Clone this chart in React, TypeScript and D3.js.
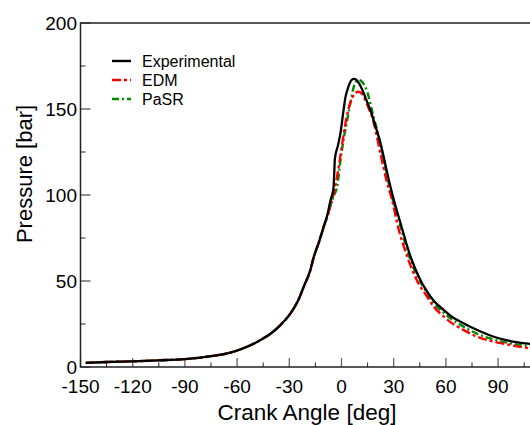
import React, { useRef, useEffect } from "react";
import * as d3 from "d3";

// crank angle [deg] / pressure [bar]
const expAngle = [-147, -135, -120, -105, -90, -75, -64, -58, -52, -46, -41, -35, -29.3, -25, -21.7, -18, -15.9, -13, -10.2, -8, -6.3, -4.6, -4.2, -3.8, -2, -0.6, 1, 2.3, 4, 5.5, 7, 8.5, 10, 12, 14, 16.7, 18.6, 22.4, 27.2, 30.1, 33.9, 39.7, 44.4, 49.2, 53, 58.8, 63, 68.4, 78, 87.5, 97, 108.6, 115];
const expP = [2.4, 2.9, 3.3, 3.9, 4.6, 6.3, 8.3, 10.3, 12.8, 16, 19.2, 24.5, 31.2, 38.5, 46.7, 56, 64.1, 72.5, 81.6, 89, 97, 104, 112, 121, 129, 136, 148, 157, 163, 166.5, 167.5, 167, 165, 161, 156, 149, 143, 130, 108.7, 97, 83.7, 64.1, 52.5, 43.8, 38.5, 33.1, 29.5, 26.3, 21.5, 17.6, 15.1, 13.4, 12.6];

const edmAngle = [-147, -135, -120, -105, -90, -75, -64, -58, -52, -46, -41, -35, -29.3, -25, -21.7, -18, -15.9, -13, -10.2, -8, -6, -4, -2, 0, 2, 4, 6, 8, 10, 12, 15, 18, 22.4, 26, 29.1, 32, 37.8, 43, 49.2, 53, 58.8, 63, 68.4, 78, 87.5, 97, 104.6, 115];
const edmP = [2.4, 2.9, 3.3, 3.9, 4.6, 6.3, 8.3, 10.3, 12.8, 16, 19.2, 24.5, 31.2, 38.5, 46.7, 56, 64.1, 72.5, 81.6, 88, 95, 103, 114, 127, 140, 150, 156, 159.5, 160, 158.5, 152, 144, 124, 108, 97, 83.5, 64.1, 51, 40.9, 35, 29.3, 25.8, 22.5, 17.6, 14.7, 12.8, 11.4, 10.3];

const pasrAngle = [-147, -135, -120, -105, -90, -75, -64, -58, -52, -46, -41, -35, -29.3, -25, -21.7, -18, -15.9, -13, -10.2, -8, -6, -4, -2.5, -0.6, 1.5, 3.3, 5, 7.1, 8.5, 10, 12, 14.8, 18.4, 22.4, 26, 29, 33, 39, 44, 49.2, 53, 58.8, 63, 68.4, 78, 87.5, 97, 108.6, 115];
const pasrP = [2.4, 2.9, 3.3, 3.9, 4.6, 6.3, 8.3, 10.3, 12.8, 16, 19.2, 24.5, 31.2, 38.5, 46.7, 56, 64.1, 72.5, 81.6, 88, 95, 100.5, 104.8, 120, 134, 143.6, 153, 163, 166, 167, 165.5, 160, 145.5, 130, 112, 99, 85, 64, 52, 43, 37, 31.5, 28, 24.5, 19.3, 16, 13.8, 12, 11.2];

const xTicks = [-150, -120, -90, -60, -30, 0, 30, 60, 90, 120, 150];
const yTicks = [0, 50, 100, 150, 200];

const seriesNames = ["Experimental", "EDM", "PaSR"];
const seriesColors = ["#000000", "#ff0000", "#008a00"];
const seriesDash = [null, "9,3,3,3", "7,3,2,3"];

const App = () => {
    const svgRef = useRef<SVGSVGElement>(null);

    useEffect(() => {
        const W = 530;
        const H = 425;
        const left = 80.5;
        const top = 23;
        const bottom = 367;
        const font = "'Liberation Sans', Arial, sans-serif";

        const svg = d3.select(svgRef.current).attr("width", W).attr("height", H);
        svg.selectAll("*").remove();

        const x = d3.scaleLinear().domain([-150, 150]).range([left, left + 10 * 52.2]);
        const y = d3.scaleLinear().domain([0, 200]).range([bottom, top]);

        svg.append("defs").append("clipPath").attr("id", "plotclip")
            .append("rect").attr("x", left).attr("y", top).attr("width", W - left).attr("height", bottom - top);

        // minor ticks
        const xMinor = d3.range(-135, 150, 30);
        const yMinor = d3.range(25, 200, 50);
        const g = svg.append("g");
        g.selectAll(".xminor").data(xMinor).enter().append("line")
            .attr("x1", (d) => x(d)).attr("x2", (d) => x(d))
            .attr("y1", bottom).attr("y2", bottom - 4.5)
            .attr("stroke", "#222").attr("stroke-width", 1);
        g.selectAll(".xmajor").data(xTicks).enter().append("line")
            .attr("x1", (d) => x(d)).attr("x2", (d) => x(d))
            .attr("y1", bottom).attr("y2", bottom - 9)
            .attr("stroke", "#666").attr("stroke-width", 1.3);
        g.selectAll(".yminor").data(yMinor).enter().append("line")
            .attr("x1", left).attr("x2", left + 5)
            .attr("y1", (d) => y(d)).attr("y2", (d) => y(d))
            .attr("stroke", "#222").attr("stroke-width", 1);
        g.selectAll(".ymajor").data(yTicks).enter().append("line")
            .attr("x1", left).attr("x2", left + 10)
            .attr("y1", (d) => y(d)).attr("y2", (d) => y(d))
            .attr("stroke", "#222").attr("stroke-width", 1);

        // curves
        const line = d3.line<[number, number]>()
            .x((d) => x(d[0]))
            .y((d) => y(d[1]))
            .curve(d3.curveMonotoneX);
        const series = [
            d3.zip(expAngle, expP),
            d3.zip(edmAngle, edmP),
            d3.zip(pasrAngle, pasrP),
        ];
        const plot = svg.append("g").attr("clip-path", "url(#plotclip)");
        [2, 1, 0].forEach((i) => {
            plot.append("path")
                .attr("d", line(series[i] as [number, number][]))
                .attr("fill", "none")
                .attr("stroke", seriesColors[i])
                .attr("stroke-width", i === 0 ? 2.3 : 2.4)
                .attr("stroke-dasharray", seriesDash[i]);
        });

        // frame
        svg.append("path")
            .attr("d", `M${W},${top}H${left}V${bottom}H${W}`)
            .attr("fill", "none").attr("stroke", "#222").attr("stroke-width", 1.5);

        // tick labels
        svg.selectAll(".xlab").data(xTicks.filter((d) => d <= 90)).enter().append("text")
            .attr("x", (d) => x(d)).attr("y", 393)
            .attr("text-anchor", "middle")
            .style("font-family", font).style("font-size", "19px")
            .text((d) => d);
        svg.selectAll(".ylab").data(yTicks).enter().append("text")
            .attr("x", 77).attr("y", (d) => y(d) + 7)
            .attr("text-anchor", "end")
            .style("font-family", font).style("font-size", "19px")
            .text((d) => d);

        // axis titles
        svg.append("text")
            .attr("x", 307).attr("y", 420)
            .attr("text-anchor", "middle")
            .style("font-family", font).style("font-size", "22.5px")
            .text("Crank Angle [deg]");
        svg.append("text")
            .attr("transform", "translate(32,174) rotate(-90)")
            .attr("text-anchor", "middle")
            .style("font-family", font).style("font-size", "22px")
            .text("Pressure [bar]");

        // legend
        const leg = svg.append("g");
        seriesNames.forEach((name, i) => {
            const ly = 61 + i * 19;
            leg.append("line")
                .attr("x1", 112).attr("x2", 131).attr("y1", ly).attr("y2", ly)
                .attr("stroke", seriesColors[i]).attr("stroke-width", 2.4)
                .attr("stroke-dasharray", seriesDash[i]);
            leg.append("text")
                .attr("x", 142).attr("y", ly + 5.5)
                .style("font-family", font).style("font-size", "16px")
                .text(name);
        });
    }, []);

    return (
        <svg ref={svgRef} style={{ position: "absolute", left: 0, top: 0, display: "block" }}></svg>
    );
};

export default App;
